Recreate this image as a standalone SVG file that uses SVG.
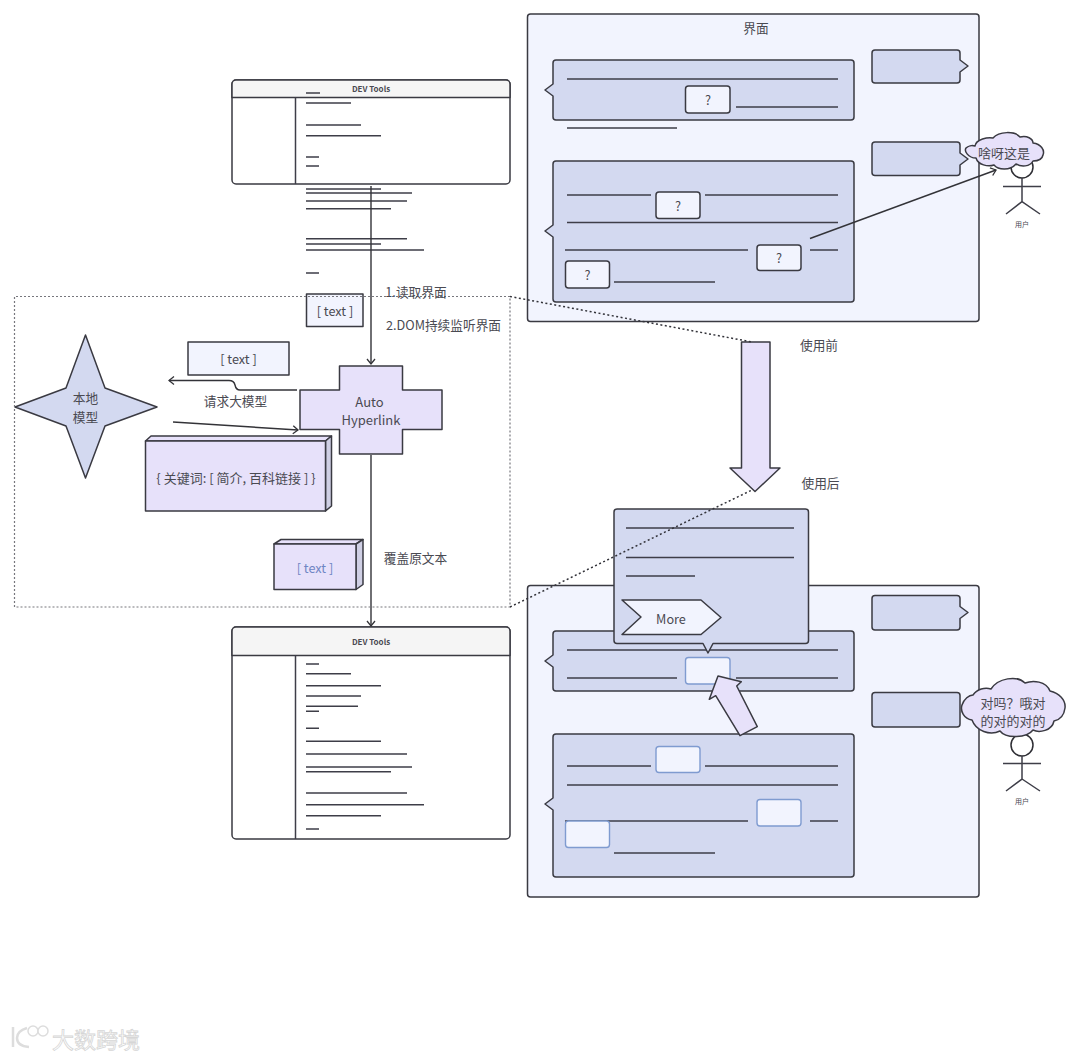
<svg xmlns="http://www.w3.org/2000/svg" width="1080" height="1058" viewBox="0 0 1080 1058">
<style>
text{font-family:"Noto Sans CJK SC","Noto Sans",sans-serif;font-size:12.700px;fill:#4a4a52;text-anchor:middle;dominant-baseline:central}
.s{stroke:#3a3a42;stroke-width:1.5;stroke-linejoin:round}
.pale{fill:#f2f4fe}.blue{fill:#d3d9f0}.lav{fill:#e7e1fa}.white{fill:#fff}.side{fill:#cfcfe4}
.ln{stroke:#3e3e48;stroke-width:1.5;fill:none}
.con{stroke:#333338;stroke-width:1.4;fill:none}
.box{stroke:#77777d;stroke-width:1.2;stroke-dasharray:2 2;fill:none}
.dot{stroke:#33333a;stroke-width:1.500;stroke-dasharray:2 2.500;fill:none}
.blt{fill:#f2f4fe;stroke:#7f9bd0;stroke-width:1.4}
.hdr{font-size:8px;font-weight:700}
.wm{font-size:22px;fill:#fff;stroke:#d6d6d6;stroke-width:.8}
</style>
<defs>
<marker id="arr" markerWidth="9" markerHeight="10" refX="7.500" refY="5" orient="auto" markerUnits="userSpaceOnUse"><path d="M2.500 1L7.500 5L2.500 9" fill="none" stroke="#333338" stroke-width="1.300"/></marker>
</defs>

<g id="panel-before">
<rect class="pale s" x="527.500" y="14" width="451.500" height="307.500" rx="3"/>
<text x="756" y="27">界面</text>
</g>
<g id="panel-after">
<rect class="pale s" x="527.500" y="585.500" width="451.500" height="311.500" rx="3"/>
</g>

<g id="devtools-top">
<rect class="white s" x="232" y="80" width="278" height="104" rx="4"/>
<path d="M232 97.500V84a4 4 0 0 1 4-4H506a4 4 0 0 1 4 4V97.500Z" fill="#f5f5f5" class="s"/>
<path class="ln" d="M295.500 97.500V184"/>
<text class="hdr" x="371" y="88">DEV Tools</text>
<path class="ln" d="M306 93H320M306 103H351M306 125H361M306 135.700H381M306 157H319M306 166H319M306 189H381M306 193H412M306 201H407M306 208.700H391M306 238.700H407M306 244H381M306 250H424M306 273H319"/>
</g>
<g id="devtools-bottom">
<rect class="white s" x="232" y="627" width="278" height="212" rx="4"/>
<path d="M232 655.500V631a4 4 0 0 1 4-4H506a4 4 0 0 1 4 4V655.500Z" fill="#f5f5f5" class="s"/>
<path class="ln" d="M295.500 655.500V839"/>
<text class="hdr" x="371" y="641">DEV Tools</text>
<path class="ln" d="M306 664H319M306 673.700H351M306 685.700H381M306 696H361M306 706.300H358M306 711.300H319M306 728.300H319M306 741.300H381M306 754H407M306 767H412M306 771.700H391M306 793H407M306 804.700H424M306 815.700H381M306 829H319"/>
</g>

<g id="local-model">
<path class="blue s" d="M85.500 335L105 388L157 407L105 426L85.500 478L66 426L15 407L66 388Z"/>
<text x="85.500" y="397.500">本地</text><text x="85.500" y="416.500">模型</text>
</g>
<g id="text-chip-1"><rect class="pale s" x="306.500" y="294" width="56.500" height="32.500"/><text x="335" y="310">[ text ]</text></g>
<g id="text-chip-2"><rect class="pale s" x="188" y="342" width="101" height="33"/><text x="238.500" y="358">[ text ]</text></g>
<g id="auto-hyperlink">
<path class="lav s" d="M339.500 366H402.500V390H442V429.500H402.500V454H339.500V429.500H300V390H339.500Z"/>
<text x="369.500" y="401" style="font-size:13px">Auto</text><text x="371" y="419.500" style="font-size:13px">Hyperlink</text>
</g>
<g id="json-box">
<path class="lav s" d="M145.500 441L151 436H331.500L325.500 441Z"/>
<path class="side s" d="M325.500 441L331.500 436V506L325.500 511Z"/>
<rect class="lav s" x="145.500" y="441" width="180" height="70"/>
<text x="236" y="477" style="font-size:13px">{ 关键词: [ 简介, 百科链接 ] }</text>
</g>
<g id="text-box-3d">
<path class="lav s" d="M274 544L281 539.500H363L356 544Z"/>
<path class="side s" d="M356 544L363 539.500V584.500L356 589.500Z"/>
<rect class="lav s" x="274" y="544" width="82" height="45.500"/>
<text x="315" y="567" style="fill:#6f85c4">[ text ]</text>
</g>

<g id="big-arrow"><path class="lav s" d="M741.500 342H770V468H780L755 491.500L730 468H741.500Z"/></g>

<g id="callout-top-1">
<path class="blue s" d="M556 60H851a3 3 0 0 1 3 3V117a3 3 0 0 1-3 3H556a3 3 0 0 1-3-3V96L545 90L553 84V63a3 3 0 0 1 3-3Z"/>
<path class="ln" d="M567 79H838M736 107H838M567 128H677"/>
<rect class="pale s" x="685.500" y="86" width="44.500" height="27" rx="3"/><text x="708" y="99.500">?</text>
</g>
<g id="callout-top-2">
<path class="blue s" d="M556 161H851a3 3 0 0 1 3 3V299a3 3 0 0 1-3 3H556a3 3 0 0 1-3-3V237L545 231L553 225V164a3 3 0 0 1 3-3Z"/>
<path class="ln" d="M567 195H651M705 195H838M567 222.500H838M565 250H748M810 250H838M614 282H715"/>
<rect class="pale s" x="656" y="192" width="44" height="26.500" rx="3"/><text x="678" y="205.500">?</text>
<rect class="pale s" x="757" y="245" width="44" height="25.500" rx="3"/><text x="779" y="257.500">?</text>
<rect class="pale s" x="565.500" y="261" width="44" height="27" rx="3"/><text x="587.500" y="274.500">?</text>
</g>
<g id="side-top-1"><path class="blue s" d="M875 50H957a3 3 0 0 1 3 3V60L968 66L960 72V80a3 3 0 0 1-3 3H875a3 3 0 0 1-3-3V53a3 3 0 0 1 3-3Z"/></g>
<g id="side-top-2"><path class="blue s" d="M875 142H957a3 3 0 0 1 3 3V153L968 159L960 165V172.500a3 3 0 0 1-3 3H875a3 3 0 0 1-3-3V145a3 3 0 0 1 3-3Z"/></g>

<g id="actor-top">
<circle class="white" cx="1022" cy="167" r="11" stroke="#2e2e34" stroke-width="1.500"/>
<path class="ln" d="M1003 186.500H1041M1022 178V201.700L1006 214M1022 201.700L1040 214"/>
<text x="1022" y="224" style="font-size:7px">用户</text>
</g>
<g id="cloud-top">
<path class="lav s" d="M975 146C976 139 988 137 993 138C999 131 1015 131 1020 137C1027 135 1033 139 1033 143C1041 144 1045 150 1043 155C1042 160 1037 161 1033 161C1030 167 1021 167 1016 164C1010 171 998 170 994 165C988 167 978 165 976 158C968 158 964 151 966 148C968 146 972 145 975 146Z"/>
<text x="1004" y="152.500" style="font-size:13px">啥呀这是</text>
</g>

<g id="side-bottom-1"><path class="blue s" d="M875 595.500H957a3 3 0 0 1 3 3V606.500L968 612.500L960 618.500V627a3 3 0 0 1-3 3H875a3 3 0 0 1-3-3V598.500a3 3 0 0 1 3-3Z"/></g>
<g id="side-bottom-2"><rect class="blue s" x="872" y="692.500" width="88" height="34.500" rx="3"/></g>
<g id="actor-bottom">
<circle class="white" cx="1022" cy="745" r="11" stroke="#2e2e34" stroke-width="1.500"/>
<path class="ln" d="M1003 763.500H1041M1022 756V779L1006 791M1022 779L1040 791"/>
<text x="1022" y="801" style="font-size:7px">用户</text>
</g>
<g id="cloud-bottom">
<path class="lav s" d="M973 695C977 689 985 687 991 689C998 678 1017 675 1025 683C1033 680 1046 681 1050 691C1059 693 1066 700 1065 708C1064 716 1059 720 1054 721C1052 731 1039 733 1033 730C1027 738 1006 739 1000 731C990 736 976 731 972 720C964 719 960 711 962 705C964 699 969 695 973 695Z"/>
<text x="1013" y="702" style="font-size:13px">对吗？哦对</text><text x="1013" y="720" style="font-size:13px">的对的对的</text>
</g>

<g id="callout-bottom-2">
<path class="blue s" d="M556 734H851a3 3 0 0 1 3 3V874a3 3 0 0 1-3 3H556a3 3 0 0 1-3-3V810L545 804L553 798V737a3 3 0 0 1 3-3Z"/>
<path class="ln" d="M567 766H651M705 766H838M567 785H838M565 821H748M810 821H838M614 853H715"/>
<rect class="blt" x="656" y="746.500" width="44" height="26" rx="3"/>
<rect class="blt" x="757" y="799.500" width="44" height="26.500" rx="3"/>
<rect class="blt" x="565.500" y="821" width="44" height="26.500" rx="3"/>
</g>
<g id="callout-bottom-1">
<path class="blue s" d="M556 631H851a3 3 0 0 1 3 3V688a3 3 0 0 1-3 3H556a3 3 0 0 1-3-3V667L545 661L553 655V634a3 3 0 0 1 3-3Z"/>
<path class="ln" d="M567 650H838M567 678H677M736 678H838"/>
<rect class="blt" x="685.500" y="657.500" width="44.500" height="26.500" rx="3"/>
</g>
<g id="popup">
<path class="blue s" d="M617 509H805.500a3 3 0 0 1 3 3V640.500a3 3 0 0 1-3 3H713L708 653L703 643.500H617a3 3 0 0 1-3-3V512a3 3 0 0 1 3-3Z"/>
<path class="ln" d="M626 528H794M626 557.500H794M626 576H695"/>
<path class="pale s" d="M622 600H701L721 617.500L701 634.500H622L641 617Z"/>
<text x="671" y="618">More</text>
</g>
<g id="cursor-arrow"><path class="lav s" d="M718 676L741.300 681.700L736.700 686L757.300 726.700L740 735.700L715.700 695.700L709.300 699.300Z"/></g>

<g id="connectors">
<path class="con" marker-end="url(#arr)" d="M371 186V364"/>
<path class="con" marker-end="url(#arr)" d="M371 455V626"/>
<path class="con" marker-end="url(#arr)" d="M297 390H240Q236 390 235 385Q234 380.500 229 380.500H169"/>
<path class="con" marker-end="url(#arr)" d="M173 422L298 430"/>
<path class="con" marker-end="url(#arr)" d="M810 238.500L996 170"/>
<path class="box" d="M510 296.500H14.500V607H510Z"/>
<path class="dot" d="M510 296.500L752 342"/>
<path class="dot" d="M510 607L752 490"/>
</g>

<g id="labels">
<text x="416" y="291.500">1.读取界面</text>
<text x="443.500" y="324.500">2.DOM持续监听界面</text>
<text x="235.500" y="400.500">请求大模型</text>
<text x="819" y="344">使用前</text>
<text x="820.500" y="482">使用后</text>
<text x="415.500" y="557.500">覆盖原文本</text>
</g>

<g id="watermark">
<path d="M13 1027V1047M27 1028Q17 1031 17 1038Q17 1046 29 1047" fill="none" stroke="#ddd" stroke-width="2.500"/>
<circle cx="33" cy="1031" r="5" fill="#fff" stroke="#ddd" stroke-width="1.500"/>
<circle cx="43" cy="1031" r="5" fill="#fff" stroke="#ddd" stroke-width="1.500"/>
<text class="wm" x="96" y="1038">大数跨境</text>
</g>
</svg>
